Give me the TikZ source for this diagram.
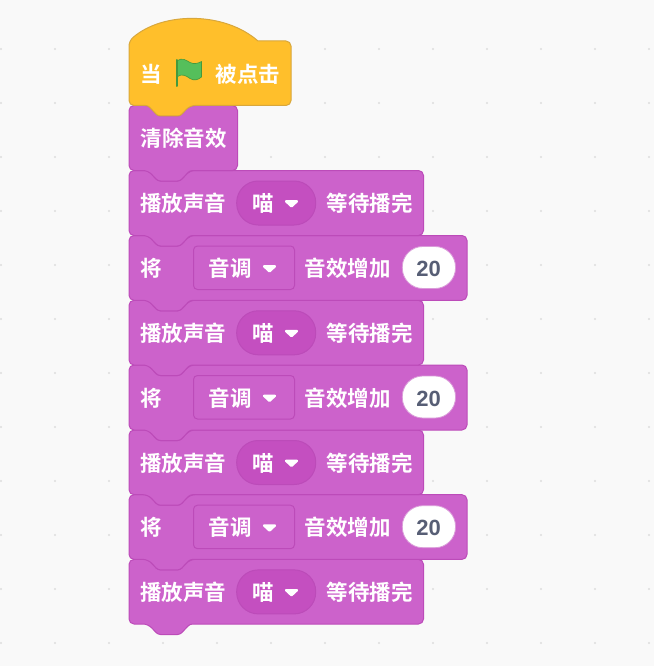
\documentclass[tikz,border=0pt]{standalone}
\usepackage{fontspec}
\setmainfont{Noto Sans CJK SC}[BoldFont={Noto Sans CJK SC Bold}]
\newfontfamily\numfont{Liberation Sans}[BoldFont={Liberation Sans Bold}]
\definecolor{bgc}{HTML}{F9F9F9}
\definecolor{dotc}{HTML}{DDDDDD}
\definecolor{soundf}{HTML}{CC62CB}
\definecolor{soundd}{HTML}{BC4BB9}
\definecolor{soundi}{HTML}{C44FC0}
\definecolor{hatf}{HTML}{FFBF2B}
\definecolor{hatd}{HTML}{D8A73C}
\definecolor{numc}{HTML}{575E75}
\definecolor{flagf}{HTML}{55BF5B}
\definecolor{flagd}{HTML}{45993D}
\tikzset{
  blockshape/.style={fill=soundf,draw=soundd,line width=1pt,line join=round},
  hatshape/.style={fill=hatf,draw=hatd,line width=1pt,line join=round},
  lbl/.style={text=white,font=\bfseries\fontsize{21.5}{22}\selectfont,inner sep=0pt,anchor=center},
  numlbl/.style={text=numc,font=\numfont\bfseries\fontsize{22}{22}\selectfont,inner sep=0pt,anchor=center},
  pill/.style={fill=soundi,draw=soundd,line width=1pt},
  boxmenu/.style={fill=soundf,draw=soundd,line width=1pt},
  oval/.style={fill=white,draw=soundd!55,line width=0.8pt},
  caret/.style={fill=white,draw=white,line width=2.4pt,line join=round}
}
% top y, bottom y, right x
\newcommand{\stackblock}[3]{%
  \draw[blockshape,rounded corners=5pt] (129,#1) -- (129,#2)
    -- (148,#2) [rounded corners=2.5pt] -- (158,#2+10.5) -- (180,#2+10.5) -- (190,#2)
    [rounded corners=5pt] -- (#3,#2) -- (#3,#1)
    -- (190,#1) [rounded corners=2.5pt] -- (180,#1+10.5) -- (158,#1+10.5) -- (148,#1)
    [rounded corners=5pt] -- cycle;}
\newcommand{\caretat}[2]{%
  \draw[caret] (#1-5.4,#2-2.2) -- (#1+5.4,#2-2.2) -- (#1,#2+2.8) -- cycle;}
\newcommand{\playblock}[3]{% id, top, bottom
  \stackblock{#2}{#3}{423.5}
  \path[pill] (236.7,#2+10.5) [rounded corners=21.5pt] rectangle (315.7,#2+54.5);
  \caretat{291.5}{#2+33}
  \node[lbl] (play#1) at (183.3,#2+33) {播放声音};
  \node[lbl] (cat#1) at (263,#2+33) {喵};
  \node[lbl] (wait#1) at (369.5,#2+33) {等待播完};}
\newcommand{\pitchblock}[3]{% id, top, bottom
  \stackblock{#2}{#3}{467}
  \path[boxmenu,rounded corners=4pt] (193.5,#2+10.5) rectangle (294.5,#2+54);
  \path[oval,rounded corners=20.5pt] (402.3,#2+11) rectangle (455.5,#2+53);
  \caretat{269.5}{#2+33}
  \node[lbl] (jiang#1) at (150.8,#2+33) {将};
  \node[lbl] (tone#1) at (230.3,#2+33) {音调};
  \node[lbl] (inc#1) at (347.8,#2+33) {音效增加};
  \node[numlbl] (num#1) at (428.5,#2+33.5) {20};}
\begin{document}
\begin{tikzpicture}[x=1pt,y=-1pt]
\useasboundingbox (0,0) rectangle (654,666);
\fill[bgc] (0,0) rectangle (654,666);
\foreach \i in {0,...,12}{\foreach \j in {0,...,11}{
  \fill[dotc] (1+54*\i,49+54*\j) circle (1.1pt);}}
\playblock{d}{559.4}{624}
\pitchblock{c}{494.7}{559.4}
\playblock{c}{430}{494.7}
\pitchblock{b}{365}{430}
\playblock{b}{300.3}{365}
\pitchblock{a}{235.5}{300.3}
\playblock{a}{170.5}{235.5}
\stackblock{105.5}{170.5}{237.5}
\node[lbl] (clear) at (183.5,138.5) {清除音效};
% hat block
\draw[hatshape,rounded corners=5pt] (129,41)
  [sharp corners] .. controls (162.6,11.4) and (224.4,11.4) .. (258,41)
  [rounded corners=5pt] -- (291,41) -- (291,105.5) -- (190,105.5)
  [rounded corners=2.5pt] -- (180,116) -- (158,116) -- (148,105.5)
  [rounded corners=5pt] -- (129,105.5) -- cycle;
\node[lbl] (when) at (150.8,74.5) {当};
\node[lbl] (clicked) at (247.8,74.5) {被点击};
% flag
\fill[flagf,draw=flagd,line width=0.6pt,line join=round] (177.5,60.5)
  .. controls (182,57.5) and (186,60) .. (190,62.5)
  .. controls (194,64.5) and (198,63.5) .. (201.5,61.5)
  -- (201.5,77)
  .. controls (198,80) and (194,81) .. (190,78.5)
  .. controls (186,75.5) and (182,73.5) .. (177.5,76.5) -- cycle;
\draw[flagd,line width=2pt,line cap=round] (177,60) -- (177,86);
\end{tikzpicture}
\end{document}
